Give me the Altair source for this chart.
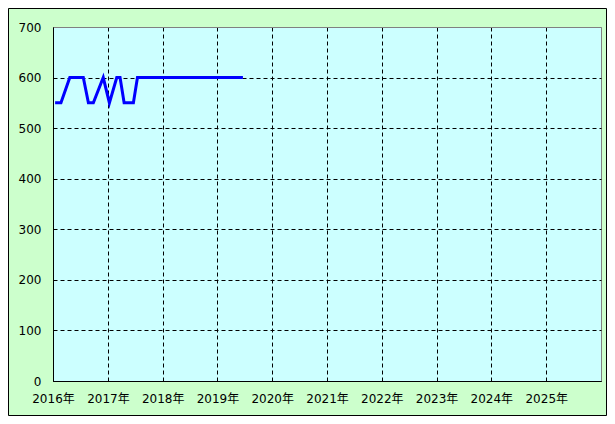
import altair as alt
import pandas as pd

# price series
dates = ["2016-01-15", "2016-02-23", "2016-04-22", "2016-07-21", "2016-08-24",
         "2016-09-26", "2016-12-01", "2017-01-11", "2017-03-01", "2017-03-23",
         "2017-04-19", "2017-06-20", "2017-07-17", "2019-06-20"]
prices = [550, 550, 600, 600, 550, 550, 600, 550, 600, 600, 550, 550, 600, 600]

tick_years = [2016, 2017, 2018, 2019, 2020, 2021, 2022, 2023, 2024, 2025]
year_suffix = "年"
y_ticks = [0, 100, 200, 300, 400, 500, 600, 700]

df = pd.DataFrame({"date": dates, "price": prices})

FONT = "'DejaVu Sans', 'Noto Sans CJK JP', sans-serif"

x_enc = alt.X(
    "date:T",
    scale=alt.Scale(type="utc",
                    domain=[alt.DateTime(year=2016, month=1, date=1, utc=True),
                            alt.DateTime(year=2026, month=1, date=1, utc=True)]),
    axis=alt.Axis(
        values=[alt.DateTime(year=y, month=1, date=1, utc=True) for y in tick_years],
        labelExpr="utcFormat(datum.value, '%Y') + '" + year_suffix + "'",
        title=None, ticks=False,
        labelPadding=12, grid=True, labelFlush=False, labelOverlap=False,
    ),
)
y_enc = alt.Y(
    "price:Q",
    scale=alt.Scale(domain=[0, 700], nice=False),
    axis=alt.Axis(values=y_ticks, title=None, ticks=False, labelPadding=12,
                  grid=True,
                  gridColor=alt.condition("datum.value == 700", alt.value("#808080"), alt.value("black")),
                  gridDash=alt.condition("datum.value == 700", alt.value([]), alt.value([4, 3])),
                  ),
)

line = alt.Chart(df).mark_line(color="#0000FF", strokeWidth=3, strokeJoin="miter").encode(
    x=x_enc, y=y_enc
)

border = alt.Chart(pd.DataFrame({"a": [0]})).mark_rect(
    fill="transparent", stroke="black", strokeWidth=1, clip=False
).encode(
    x=alt.value(-44.5), x2=alt.value(553.5), y=alt.value(-18.5), y2=alt.value(388.5)
)

chart = alt.layer(line, border).properties(
    width=548, height=354,
    autosize=alt.AutoSizeParams(type="none"),
    padding={"left": 45, "top": 19, "right": 6, "bottom": 35},
).configure(
    background="#CCFFCC",
).configure_view(
    fill="#CCFFFF", stroke="#808080", strokeWidth=1,
).configure_axis(
    domainColor="black", domainWidth=1,
    gridColor="black", gridDash=[4, 3], gridWidth=1, gridOpacity=1,
    labelColor="black", labelFont=FONT, labelFontSize=12,
)

chart.save("out.html", embed_options={"renderer": "svg", "actions": False})
